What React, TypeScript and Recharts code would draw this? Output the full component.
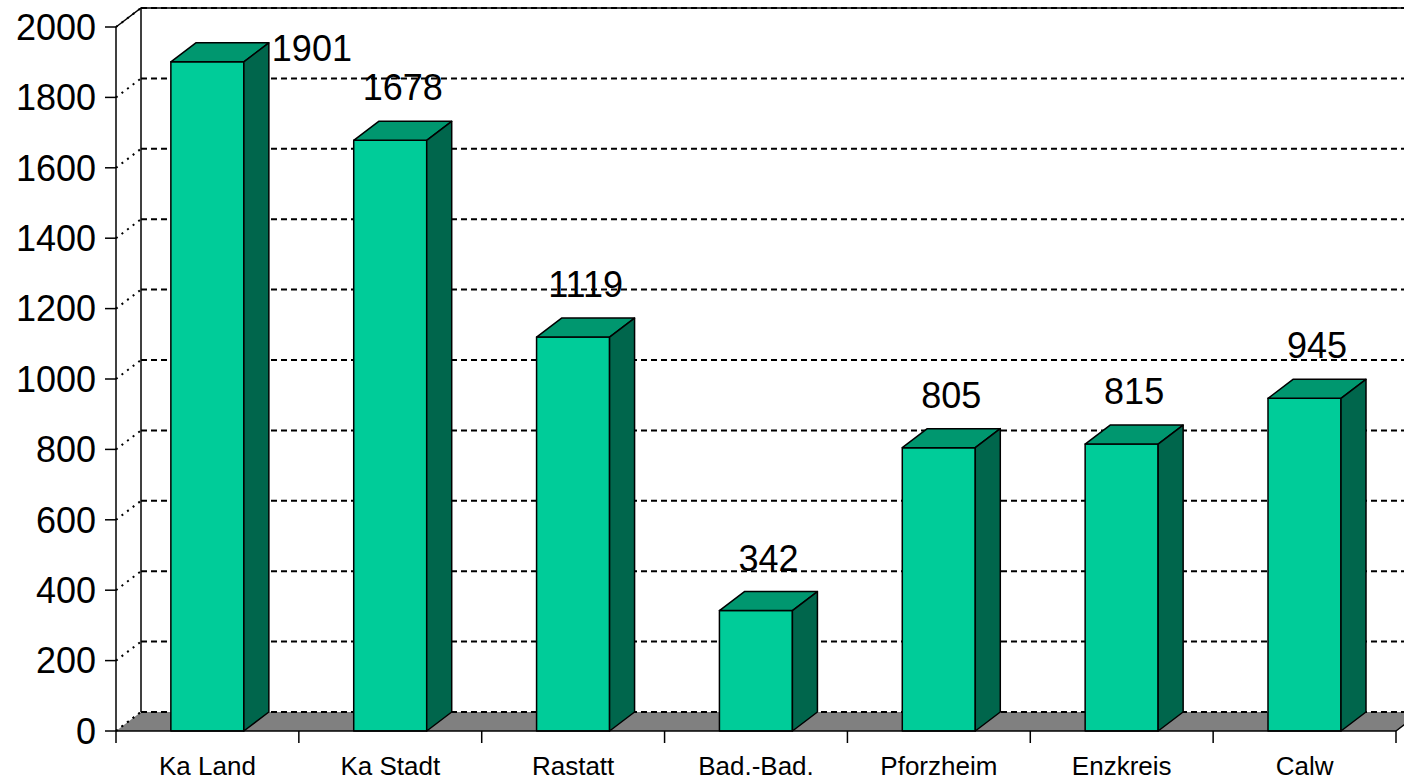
import { BarChart, Bar, XAxis, YAxis, CartesianGrid, ReferenceArea, LabelList } from 'recharts'

const CATEGORIES = ['Ka Land', 'Ka Stadt', 'Rastatt', 'Bad.-Bad.', 'Pforzheim', 'Enzkreis', 'Calw']
const VALUES = [1901, 1678, 1119, 342, 805, 815, 945]
const Y_TICKS = [0, 200, 400, 600, 800, 1000, 1200, 1400, 1600, 1800, 2000]

const data = CATEGORIES.map((name, i) => ({ name, value: VALUES[i] }))

const FONT = '"Liberation Sans", Arial, sans-serif'
// depth of the 3d box (to the right and up)
const DX = 25
const DY = 19
const FRONT = '#00CC99'
const TOP = '#00976F'
const SIDE = '#00664C'

function Bar3D(props: any) {
    const { x, y, width, height } = props
    if (width == null || height == null) return null
    return (
        <g stroke="#000" strokeWidth={1.5} strokeLinejoin="round">
            <rect x={x} y={y} width={width} height={height} fill={FRONT} />
            <polygon
                points={`${x},${y} ${x + DX},${y - DY} ${x + width + DX},${y - DY} ${x + width},${y}`}
                fill={TOP}
            />
            <polygon
                points={`${x + width},${y} ${x + width + DX},${y - DY} ${x + width + DX},${y + height - DY} ${x + width},${y + height}`}
                fill={SIDE}
            />
        </g>
    )
}

// back wall dashed line + dotted line on the side wall
function GridLine(p: any) {
    const { x1, x2, y1 } = p
    return (
        <g key={p.key ?? `grid-${p.index}`}>
            <line x1={x1 + DX} y1={y1 - DY} x2={x2 + DX} y2={y1 - DY} stroke="#000" strokeWidth={2} strokeDasharray="6 4" />
            <line x1={x1} y1={y1} x2={x1 + DX} y2={y1 - DY} stroke="#000" strokeWidth={2} strokeDasharray="2 5" />
        </g>
    )
}

// walls outline and grey floor
function Frame(p: any) {
    const { x, y, width, height } = p
    if (x == null) return null
    const b = y + height
    return (
        <g>
            <polygon
                points={`${x},${b} ${x + width},${b} ${x + width + DX},${b - DY} ${x + DX},${b - DY}`}
                fill="#808080"
                stroke="none"
            />
            <line x1={x + DX} y1={b - DY} x2={x + width + DX} y2={b - DY} stroke="#000" strokeWidth={2} strokeDasharray="6 4" />
            <line x1={x} y1={b} x2={x + DX} y2={b - DY} stroke="#000" strokeWidth={2} strokeDasharray="2 5" />
            <line x1={x + width} y1={b} x2={x + width + DX} y2={b - DY} stroke="#000" strokeWidth={1.5} />
            <polyline
                points={`${x},${y} ${x + DX},${y - DY} ${x + width + DX},${y - DY}`}
                fill="none"
                stroke="#000"
                strokeWidth={1.5}
            />
            <line x1={x + DX} y1={y - DY} x2={x + DX} y2={b - DY} stroke="#000" strokeWidth={1.5} />
        </g>
    )
}

function CategoryTick(p: any) {
    const { x, y, payload, index } = p
    const half = payload?.offset ?? 0
    const last = index === CATEGORIES.length - 1
    return (
        <g>
            <line x1={x - half} y1={y} x2={x - half} y2={y + 12} stroke="#000" strokeWidth={1.5} />
            {last && <line x1={x + half} y1={y} x2={x + half} y2={y + 12} stroke="#000" strokeWidth={1.5} />}
            <text x={x} y={y + 44} textAnchor="middle" fontSize={26} fill="#000" fontFamily={FONT}>
                {payload.value}
            </text>
        </g>
    )
}

function ValueLabel(p: any) {
    const { x, y, width, value } = p
    const fs = 36
    const backTop = y - DY
    let cx = x + width / 2 + DX / 2
    let cy = backTop - 34
    let anchor: 'middle' | 'start' = 'middle'
    // no room above the tallest bar: put the label beside it
    if (cy - fs * 0.36 < 0) {
        cx = x + width + DX + 3
        cy = backTop + 5
        anchor = 'start'
    }
    return (
        <text x={cx} y={cy + fs * 0.358} textAnchor={anchor} fontSize={fs} fill="#000" fontFamily={FONT}>
            {value}
        </text>
    )
}

export default function App() {
    return (
        <div style={{ position: 'absolute', left: 0, top: 0, width: 1404, height: 781, background: '#fff' }}>
            <BarChart
                width={1404}
                height={781}
                data={data}
                margin={{ top: 27, right: 8, bottom: 0, left: 0 }}
                barCategoryGap="30%"
                style={{ fontFamily: FONT }}
            >
                <CartesianGrid vertical={false} horizontal={GridLine as any} />
                <ReferenceArea y1={0} y2={2000} shape={Frame as any} {...({ zIndex: -90 } as any)} />
                <XAxis
                    dataKey="name"
                    height={50}
                    interval={0}
                    tickSize={0}
                    tickMargin={0}
                    tickLine={false}
                    axisLine={{ stroke: '#000', strokeWidth: 1.5 }}
                    tick={<CategoryTick />}
                />
                <YAxis
                    domain={[0, 2000]}
                    ticks={Y_TICKS}
                    interval={0}
                    width={116}
                    tickSize={11}
                    tickMargin={9}
                    axisLine={{ stroke: '#000', strokeWidth: 1.5 }}
                    tickLine={{ stroke: '#000', strokeWidth: 1.5 }}
                    tick={{ fontSize: 36, fill: '#000', fontFamily: FONT }}
                />
                <Bar dataKey="value" shape={Bar3D as any} isAnimationActive={false}>
                    <LabelList dataKey="value" content={ValueLabel as any} />
                </Bar>
            </BarChart>
        </div>
    )
}
